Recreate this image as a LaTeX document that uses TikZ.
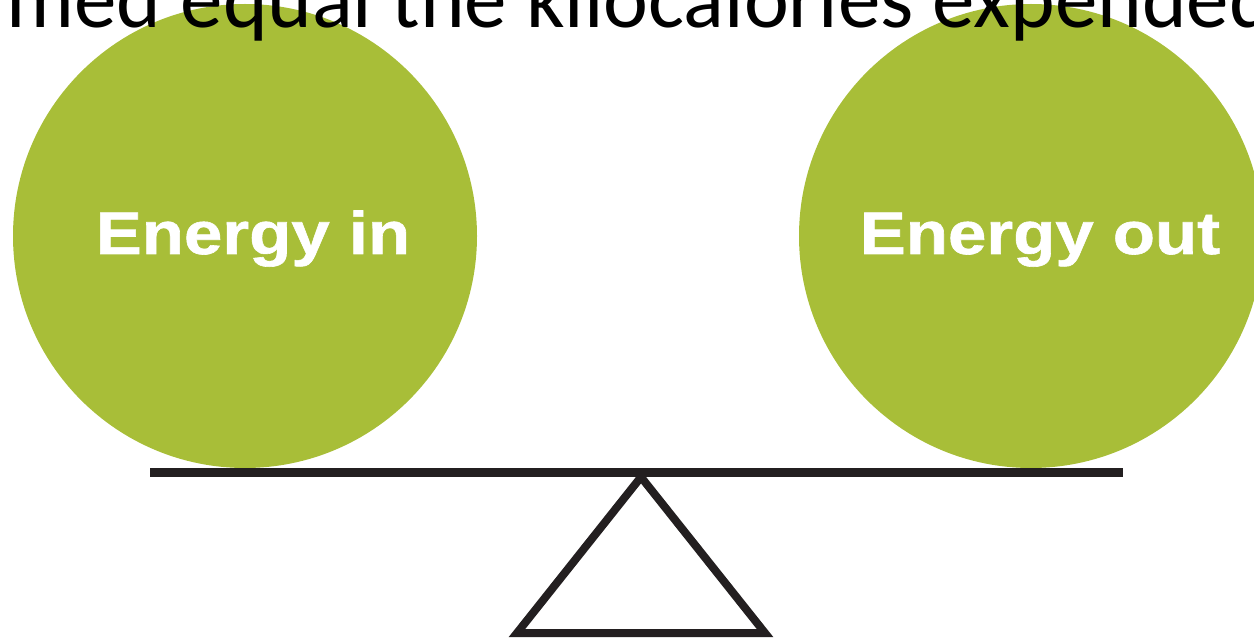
\documentclass[tikz,border=0pt]{standalone}
\usepackage{fontspec}
\usepackage{tikz}
\usetikzlibrary{calc}
\usetikzlibrary{positioning}
\setmainfont{Carlito}
\newfontfamily\panfont[FakeStretch=1.15,FakeBold=1]{Liberation Sans}
\definecolor{myolive}{RGB}{168,190,56}
\definecolor{mydarkbeam}{RGB}{35,31,32}
\tikzset{
  pan/.style={shape=circle,minimum size=464pt,fill=myolive,draw=none},
  beam/.style={line width=9pt,draw=mydarkbeam,line cap=butt},
  stand/.style={line width=8pt,draw=mydarkbeam,line join=miter}
}
\newcommand\panletter[1]{{\panfont\bfseries\fontsize{60}{60}\selectfont\color{white}{#1}}}
\newcommand\titleletter[1]{{\fontsize{85}{85}\selectfont{#1}}}
\begin{document}
\begin{tikzpicture}[x=1pt, y=-1pt, every node/.style={inner sep=0mm, outer sep=0mm}]
\useasboundingbox (0,0) rectangle (1254,639);
\clip (0,0) rectangle (1254,639);
\node[pan] (leftpan)  at (245,236) {};
\node[pan] (rightpan) at (1031,236) {};
\node[anchor=base west] (title) at (-38,28) {\titleletter{umed equal the kilocalories expended}};
\node[anchor=base] (inlabel)  at (253,254) {\panletter{Energy in}};
\node[anchor=base] (outlabel) at (1040,254) {\panletter{Energy out}};
\coordinate (beamleft)  at (150,472);
\coordinate (beamright) at (1123,472);
\draw[beam] (beamleft) -- (beamright);
\coordinate (pivot)     at (641,477);
\coordinate (footleft)  at (517,633);
\coordinate (footright) at (765,633);
\draw[stand] (pivot) -- (footleft) -- (footright) -- cycle;
\end{tikzpicture}
\end{document}
